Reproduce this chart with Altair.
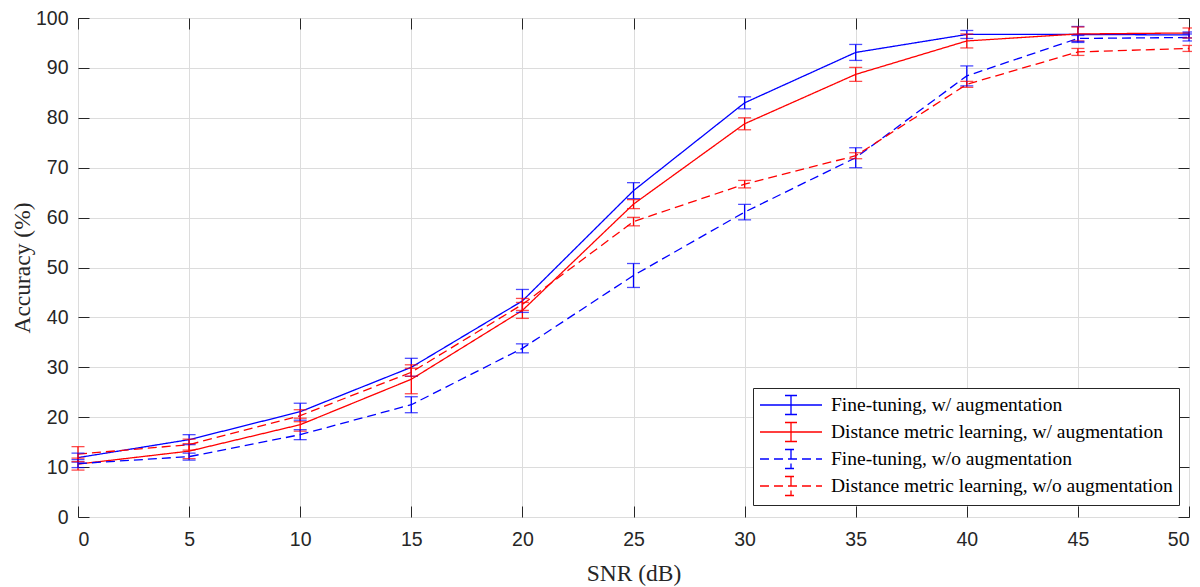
import altair as alt
import pandas as pd

snr = [0, 5, 10, 15, 20, 25, 30, 35, 40, 45, 50]

series_names = [
    "Fine-tuning, w/ augmentation",
    "Distance metric learning, w/ augmentation",
    "Fine-tuning, w/o augmentation",
    "Distance metric learning, w/o augmentation",
]

ft_aug = [11.9, 15.5, 21.1, 30.0, 43.3, 65.4, 83.0, 93.1, 96.7, 96.7, 96.6]
ft_aug_err = [0.9, 1.0, 1.7, 1.8, 2.3, 1.6, 1.2, 1.6, 0.8, 1.6, 0.6]

dml_aug = [10.6, 13.2, 18.5, 27.6, 41.4, 62.7, 78.8, 88.7, 95.4, 96.8, 97.0]
dml_aug_err = [1.2, 1.5, 1.3, 2.9, 1.6, 0.9, 1.2, 1.4, 1.4, 1.4, 1.0]

ft_noaug = [10.7, 12.1, 16.5, 22.5, 33.8, 48.4, 61.1, 72.0, 88.4, 95.9, 96.1]
ft_noaug_err = [0.8, 0.7, 1.0, 1.6, 0.9, 2.4, 1.55, 2.0, 2.0, 0.6, 0.7]

dml_noaug = [12.6, 14.5, 20.3, 29.0, 42.6, 59.2, 66.7, 72.4, 86.7, 93.2, 93.9]
dml_noaug_err = [1.5, 1.1, 1.2, 0.8, 1.2, 0.85, 0.75, 0.6, 0.6, 0.7, 0.6]

colors = ["#0000ff", "#ff0000", "#0000ff", "#ff0000"]
dashes = [[1, 0], [1, 0], [9, 5], [9, 5]]

rows = []
for name, vals, errs in zip(series_names,
                            [ft_aug, dml_aug, ft_noaug, dml_noaug],
                            [ft_aug_err, dml_aug_err, ft_noaug_err, dml_noaug_err]):
    for s, v, e in zip(snr, vals, errs):
        rows.append({"snr": s, "acc": v, "lo": v - e, "hi": v + e, "series": name})
df = pd.DataFrame(rows)

AX = "#262626"
xscale = alt.Scale(domain=[0, 50], nice=False, zero=False)
yscale = alt.Scale(domain=[0, 100], nice=False)
xvals = list(range(0, 51, 5))
yvals = list(range(0, 101, 10))

# legend glyph: line with an error-bar "I" in the middle (wider than the nominal symbol box)
legend = alt.Legend(
    title=None, orient="none", legendX=675, legendY=370,
    fillColor="white", strokeColor=AX, padding=6,
    symbolType="M-3.1,0H3.1M0,-0.95V0.95M-0.6,-0.95H0.6M-0.6,0.95H0.6",
    symbolSize=400, symbolStrokeWidth=1.3, symbolOffset=21,
    labelFont="Liberation Serif", labelFontSize=19.5, labelColor="black",
    labelLimit=600, rowPadding=1, labelOffset=29,
)

color_enc = alt.Color("series:N", scale=alt.Scale(domain=series_names, range=colors), legend=legend)
dash_enc = alt.StrokeDash("series:N", scale=alt.Scale(domain=series_names, range=dashes), legend=legend)
color_noleg = alt.Color("series:N", scale=alt.Scale(domain=series_names, range=colors), legend=None)

def tick_axis(orient):
    return alt.Axis(orient=orient, offset=-11, values=xvals if orient in ("top", "bottom") else yvals,
                    ticks=True, tickSize=11, tickColor=AX, tickWidth=1, labels=False,
                    domain=False, grid=False, title=None)

lines = alt.Chart(df).mark_line(strokeWidth=1.3).encode(
    x=alt.X("snr:Q", scale=xscale, axis=alt.Axis(
        orient="bottom", values=xvals, title="SNR (dB)", grid=True, ticks=False, domain=False,
        labelFont="Liberation Sans", labelFontSize=19.5, labelColor=AX, labelPadding=13,
        titleFont="Liberation Serif", titleFontSize=23.5, titleFontWeight="normal", titleColor=AX,
        titleY=63, titleBaseline="alphabetic", gridColor="#dcdcdc")),
    y=alt.Y("acc:Q", scale=yscale, axis=alt.Axis(
        orient="left", values=yvals, title="Accuracy (%)", grid=True, ticks=False, domain=False,
        labelFont="Liberation Sans", labelFontSize=19.5, labelColor=AX, labelPadding=10,
        titleFont="Liberation Serif", titleFontSize=23.5, titleFontWeight="normal", titleColor=AX,
        titleX=-56, titleBaseline="middle", gridColor="#dcdcdc")),
    color=color_enc,
    strokeDash=dash_enc,
)

rules = alt.Chart(df).mark_rule(strokeWidth=1.3).encode(
    x=alt.X("snr:Q", scale=xscale, axis=tick_axis("bottom")),
    y=alt.Y("lo:Q", scale=yscale, axis=tick_axis("left")),
    y2="hi:Q",
    color=color_noleg,
)

caps_lo = alt.Chart(df).mark_tick(orient="horizontal", size=13, thickness=1.3).encode(
    x=alt.X("snr:Q", scale=xscale, axis=tick_axis("top")),
    y=alt.Y("lo:Q", scale=yscale, axis=tick_axis("right")),
    color=color_noleg,
)

caps_hi = alt.Chart(df).mark_tick(orient="horizontal", size=13, thickness=1.3).encode(
    x=alt.X("snr:Q", scale=xscale, axis=None),
    y=alt.Y("hi:Q", scale=yscale, axis=None),
    color=color_noleg,
)

chart = alt.layer(lines, rules, caps_lo, caps_hi).resolve_axis(
    x="independent", y="independent"
).properties(
    width=1111, height=499,
    autosize=alt.AutoSizeParams(type="none"),
    padding={"left": 70, "top": 10, "right": 3, "bottom": 70},
    background="white",
).configure_view(stroke=AX, strokeWidth=1)

chart.save("out.html", embed_options={"renderer": "svg", "actions": False})
